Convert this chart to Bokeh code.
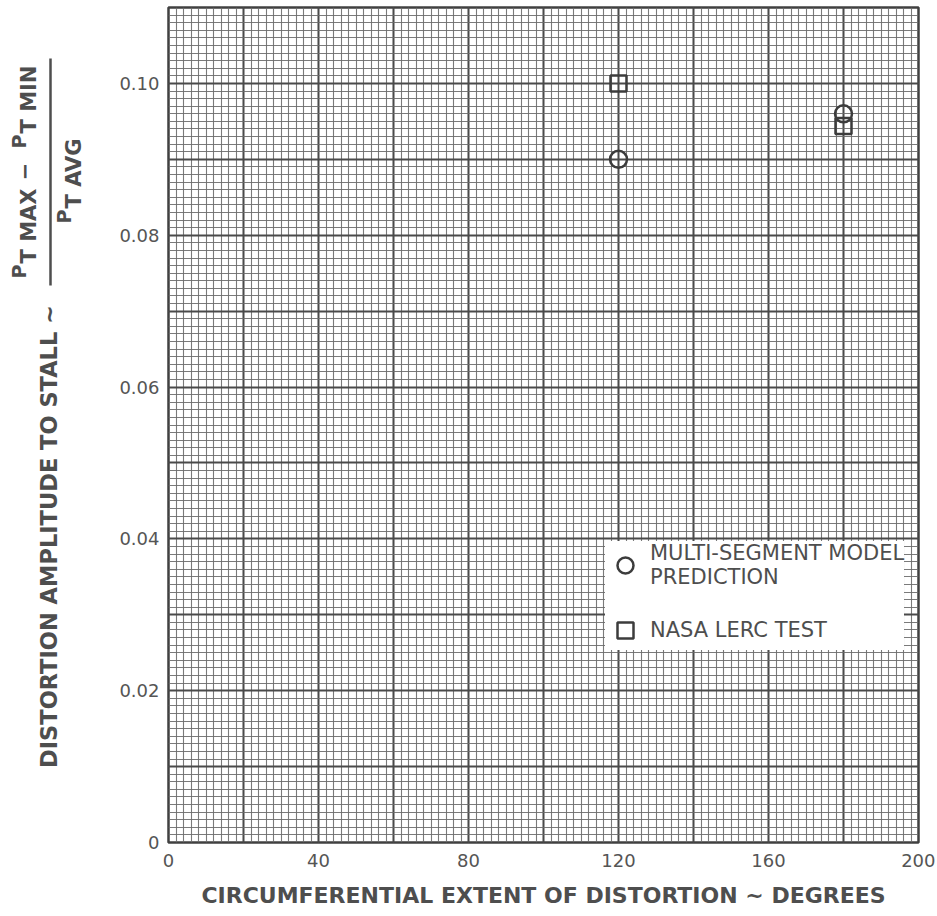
import math
from bokeh.plotting import figure
from bokeh.layouts import row
from bokeh.models import (Range1d, SingleIntervalTicker, FixedTicker, Label,
                          Legend, LegendItem, ColumnDataSource)
from bokeh.embed import file_html
from bokeh.resources import INLINE

# ---- data ----
pred_deg = [120, 180]          # multi-segment model prediction
pred_amp = [0.090, 0.096]
test_deg = [120, 180]          # NASA LeRC test
test_amp = [0.100, 0.0944]

x_ticks = [0, 40, 80, 120, 160, 200]
y_ticks = [0, 0.02, 0.04, 0.06, 0.08, 0.10]
y_tick_labels = ["0", "0.02", "0.04", "0.06", "0.08", "0.10"]

FONT = "DejaVu Sans"
INK = "#3c3c3c"
TXT = "#4e4e4e"
H = 914
TOP, BOTTOM = 7, 72

# ---------------- main chart ----------------
p = figure(width=835, height=H, output_backend="svg", toolbar_location=None,
           x_range=Range1d(0, 200), y_range=Range1d(0, 0.11),
           min_border_left=68, min_border_right=17, min_border_top=TOP, min_border_bottom=BOTTOM)
p.background_fill_color = "white"
p.border_fill_color = "white"
p.outline_line_color = "#404040"
p.outline_line_width = 2.5

# graph-paper grid
p.xgrid.ticker = SingleIntervalTicker(interval=20, num_minor_ticks=10)
p.ygrid.ticker = SingleIntervalTicker(interval=0.01, num_minor_ticks=10)
for g in (p.xgrid, p.ygrid):
    g.grid_line_color = "#4a4a4a"
    g.grid_line_width = 2
    g.minor_grid_line_color = "#6c6c6c"
    g.minor_grid_line_width = 1.1
    g.minor_grid_line_alpha = 0.9

# axes
p.xaxis.ticker = FixedTicker(ticks=x_ticks)
p.yaxis.ticker = FixedTicker(ticks=y_ticks)
p.yaxis.major_label_overrides = {t: l for t, l in zip(y_ticks, y_tick_labels)}
for ax in (p.xaxis, p.yaxis):
    ax.axis_line_color = None
    ax.major_tick_line_color = None
    ax.minor_tick_line_color = None
    ax.major_label_text_font = FONT
    ax.major_label_text_font_size = "18px"
    ax.major_label_text_color = "#555555"
p.xaxis.major_label_standoff = 5
p.yaxis.major_label_standoff = 3
p.xaxis.axis_label = "CIRCUMFERENTIAL EXTENT OF DISTORTION ~ DEGREES"
p.xaxis.axis_label_text_font = FONT
p.xaxis.axis_label_text_font_style = "bold"
p.xaxis.axis_label_text_font_size = "22px"
p.xaxis.axis_label_text_color = TXT
p.xaxis.axis_label_standoff = 13

# data
src_pred = ColumnDataSource(dict(x=pred_deg, y=pred_amp))
src_test = ColumnDataSource(dict(x=test_deg, y=test_amp))
r_pred = p.scatter("x", "y", source=src_pred, marker="circle", size=17,
                   fill_color=None, line_color=INK, line_width=2.5)
r_test = p.scatter("x", "y", source=src_test, marker="square", size=16,
                   fill_color=None, line_color=INK, line_width=2.5)

legend = Legend(items=[LegendItem(label="MULTI-SEGMENT MODEL\nPREDICTION", renderers=[r_pred]),
                       LegendItem(label="NASA LERC TEST", renderers=[r_test])],
                location=(437, 192), background_fill_color="white", background_fill_alpha=1,
                border_line_color=None, padding=5, spacing=21, margin=0,
                label_text_font=FONT, label_text_font_size="21px", label_text_color=TXT,
                label_text_line_height=1.45,
                label_standoff=5, glyph_width=40, glyph_height=40)
p.add_layout(legend, "center")

# ---------------- y-axis title panel (pixel coordinates) ----------------
# the row aligns frames, so this panel's frame spans the same rows as the chart frame
t = figure(width=100, height=H, output_backend="svg", toolbar_location=None,
           x_axis_type=None, y_axis_type=None,
           x_range=Range1d(0, 100), y_range=Range1d(H - BOTTOM, TOP),
           min_border_left=0, min_border_right=0, min_border_top=TOP, min_border_bottom=BOTTOM)
t.grid.visible = False
t.outline_line_color = None
t.background_fill_color = "white"
t.border_fill_color = "white"


def lab(text, X, Y, size, align="left"):
    t.add_layout(Label(x=X, y=Y, text=text, angle=math.pi / 2,
                       text_align=align, text_baseline="middle", text_font=FONT,
                       text_font_style="bold", text_font_size=size, text_color=TXT))


lab("DISTORTION AMPLITUDE TO STALL ~", 48, 536, "22.5px", align="center")
# numerator
lab("P", 18, 278, "19px")
lab("T MAX", 28, 263, "21px")
lab("\u2212", 23, 171, "21px", align="center")
lab("P", 18, 148, "19px")
lab("T MIN", 28, 133, "21px")
# denominator
lab("P", 63, 223, "19px")
lab("T AVG", 73, 208, "21px")
# fraction bar
t.segment(x0=[50], y0=[58], x1=[50], y1=[285], line_color=TXT, line_width=2.5)

layout = row(t, p, spacing=0)
open("out.html", "w").write(file_html(layout, INLINE))
